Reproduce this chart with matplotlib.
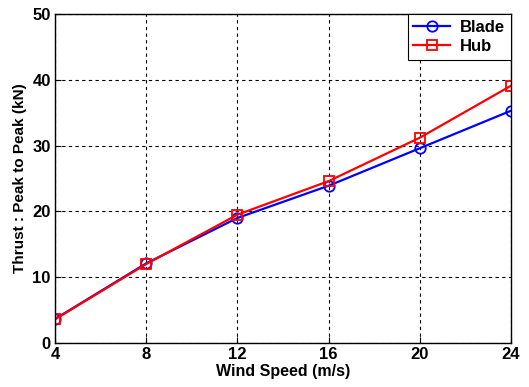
import numpy as np
import matplotlib.pyplot as plt

wind_speed = [4, 8, 12, 16, 20, 24]
blade = [3.65, 12.1, 19.0, 23.9, 29.6, 35.3]
hub = [3.6, 12.0, 19.5, 24.6, 31.2, 39.1]

plt.rcParams['font.family'] = ['Liberation Sans', 'DejaVu Sans']
plt.rcParams['font.weight'] = 'bold'

fig = plt.figure(figsize=(5.29, 3.87), dpi=100)
ax = fig.add_axes([55/529, 1 - 343/387, (511 - 55)/529, (343 - 14)/387])

ax.plot(wind_speed, blade, color='#0000ff', marker='o', markersize=7.5,
        markerfacecolor='none', markeredgewidth=1.3, linewidth=1.6, label='Blade')
ax.plot(wind_speed, hub, color='#ff0000', marker='s', markersize=7.5,
        markerfacecolor='none', markeredgewidth=1.3, linewidth=1.6, label='Hub')

ax.set_xlim(4, 24)
ax.set_ylim(0, 50)
ax.set_xticks(wind_speed)
ax.set_yticks([0, 10, 20, 30, 40, 50])
ax.tick_params(direction='in', labelsize=12, length=4, width=0.8, pad=3)
ax.grid(True, linestyle=(0, (3, 3)), color='black', linewidth=0.8)
for s in ax.spines.values():
    s.set_linewidth(1.0)

ax.set_xlabel('Wind Speed (m/s)', fontsize=11.5, fontweight='bold', labelpad=1)
ax.set_ylabel('Thrust : Peak to Peak (kN)', fontsize=11, fontweight='bold', labelpad=4)

leg = ax.legend(loc='upper right', borderaxespad=0, fancybox=False,
                framealpha=1, edgecolor='black', fontsize=12,
                handlelength=2.2, borderpad=0.35, labelspacing=0.25,
                handletextpad=0.6)
leg.get_frame().set_linewidth(0.8)

fig.savefig('out.png', dpi=100)
